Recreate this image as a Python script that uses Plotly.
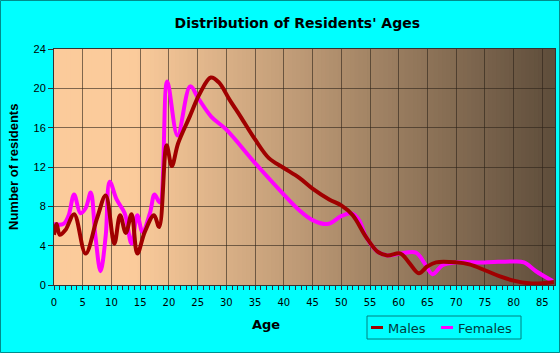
import plotly.graph_objects as go

# ---- data ----
male_age = [0, 0.45, 1, 2, 3.5, 5.5, 7.5, 9, 10.5, 11.5, 12.5, 13.5, 14.5, 15.8, 17.4, 18.3,
            19.6, 20.5, 21.6, 23.6, 25.4, 27.3, 28.7, 30.6, 32.5, 35, 37.4, 40, 42.7, 45,
            47.9, 50, 52, 54.3, 56.3, 58, 60.3, 61.9, 63.5, 65, 66.5, 70, 72.3, 75, 77.5,
            80, 82.7, 85, 87]
male_val = [5.1, 6.2, 5.1, 5.6, 7.2, 3.2, 6.8, 9.1, 4.2, 7.1, 5.3, 7.2, 3.2, 5.4, 7.1, 5.9,
            14.2, 12.1, 14.4, 17.1, 19.5, 21.1, 20.6, 18.8, 17.1, 14.8, 12.9, 11.9, 10.9, 9.8,
            8.7, 8.1, 7.1, 4.9, 3.4, 3.0, 3.2, 2.2, 1.2, 1.9, 2.3, 2.3, 2.1, 1.5, 0.9,
            0.44, 0.17, 0.17, 0.3]

female_age = [0, 1.6, 2.5, 3.5, 4.6, 5.5, 6.4, 7.2, 8.1, 9, 9.7, 10.9, 12.3, 13.5, 14.5, 15.4,
              16.7, 17.5, 18.4, 19.7, 21.5, 23.7, 25.1, 27.4, 30, 35, 40, 42.7, 45, 47.6, 50,
              51.7, 53.1, 54.3, 56.3, 58, 60.3, 63, 64.5, 65.9, 67.6, 70, 75, 80, 81.8, 83.9,
              86.8]
female_val = [6.2, 6.2, 7.0, 9.2, 7.3, 7.8, 9.4, 5.0, 1.4, 5.0, 10.5, 8.7, 7.3, 4.2, 7.1, 5.4,
              7.3, 9.2, 8.4, 20.7, 15.2, 20.2, 19.0, 17.1, 15.8, 12.4, 9.2, 7.6, 6.6, 6.2, 7.0,
              7.3, 6.6, 4.9, 3.4, 3.0, 3.2, 3.3, 2.2, 1.1, 2.0, 2.3, 2.3, 2.4, 2.3, 1.4,
              0.4]

x_ticks = list(range(0, 90, 5))
y_ticks = list(range(0, 25, 4))
series_names = ["Males", "Females"]
series_colors = ["#A00000", "#FF00FF"]

# ---- figure ----
W, H = 560, 353
L, R, T, B = 54, 5, 49, 68
pw, ph = W - L - R, H - T - B

def px2x(p):
    return (p - L) / pw

def py2y(p):
    return (H - B - p) / ph

fig = go.Figure()
fig.add_trace(go.Scatter(x=female_age, y=female_val, mode="lines", name=series_names[1],
                         line=dict(color=series_colors[1], width=4, shape="spline", smoothing=1.0),
                         showlegend=False))
fig.add_trace(go.Scatter(x=male_age, y=male_val, mode="lines", name=series_names[0],
                         line=dict(color=series_colors[0], width=4, shape="spline", smoothing=1.0),
                         showlegend=False))

shapes = []
# background gradient
c0 = (251, 203, 155)
c1 = (94, 77, 59)
xmax = 87.2
n = 120
for i in range(n):
    a = xmax * i / n
    b = xmax * (i + 1) / n
    m = (a + b) / 2
    t = max(0.0, (m - 14) / (xmax - 14))
    col = tuple(round(c0[k] + (c1[k] - c0[k]) * t) for k in range(3))
    shapes.append(dict(type="rect", xref="x", yref="paper", x0=a, x1=min(b + 0.4, xmax), y0=0, y1=1,
                       fillcolor="rgb(%d,%d,%d)" % col, line=dict(width=0), layer="below"))

# outer border
shapes.append(dict(type="rect", xref="paper", yref="paper",
                   x0=px2x(0.5), x1=px2x(W - 0.5), y0=py2y(H - 0.5), y1=py2y(0.5),
                   line=dict(color="#008C8C", width=1), fillcolor="rgba(0,0,0,0)"))

# custom legend
shapes.append(dict(type="rect", xref="paper", yref="paper",
                   x0=px2x(367), x1=px2x(521), y0=py2y(339), y1=py2y(316),
                   line=dict(color="#008080", width=1), fillcolor="rgba(0,0,0,0)"))
for x0p, col in [(371, series_colors[0]), (441, series_colors[1])]:
    shapes.append(dict(type="line", xref="paper", yref="paper",
                       x0=px2x(x0p), x1=px2x(x0p + 12), y0=py2y(327.5), y1=py2y(327.5),
                       line=dict(color=col, width=3)))

annotations = [
    dict(text=series_names[0], xref="paper", yref="paper", x=px2x(386), y=py2y(328),
         xanchor="left", yanchor="middle", showarrow=False,
         font=dict(family="DejaVu Sans", size=13, color="#003C3C")),
    dict(text=series_names[1], xref="paper", yref="paper", x=px2x(456), y=py2y(328),
         xanchor="left", yanchor="middle", showarrow=False,
         font=dict(family="DejaVu Sans", size=13, color="#003C3C")),
    dict(text="<b>Number of residents</b>", xref="paper", yref="paper", x=px2x(13), y=0.5,
         xanchor="center", yanchor="middle", textangle=-90, showarrow=False,
         font=dict(family="Liberation Sans", size=13, color="#000")),
    dict(text="<b>Age</b>", xref="paper", yref="paper", x=px2x(266), y=py2y(324),
         xanchor="center", yanchor="middle", showarrow=False,
         font=dict(family="DejaVu Sans", size=13, color="#000")),
]

fig.update_layout(
    width=W, height=H,
    margin=dict(l=L, r=R, t=T, b=B),
    paper_bgcolor="#00FFFF",
    plot_bgcolor="#FBCB9B",
    title=dict(text="<b>Distribution of Residents' Ages</b>", x=272 / W, xanchor="center",
               y=1 - 23 / H, yanchor="middle", xref="paper",
               font=dict(family="DejaVu Sans", size=14, color="#000")),
    shapes=shapes,
    annotations=annotations,
    showlegend=False,
    xaxis=dict(range=[0, 87.2], tickvals=x_ticks, ticktext=[str(v) for v in x_ticks],
               showgrid=True, gridcolor="rgba(45,35,25,0.6)", gridwidth=1,
               zeroline=False, showline=True, linecolor="#333", linewidth=1, mirror=True,
               ticks="outside", ticklen=4, tickcolor="#333", ticklabelstandoff=4,
               minor=dict(dtick=1, ticks="outside", ticklen=4, tickcolor="#333", showgrid=False),
               tickfont=dict(family="DejaVu Sans", size=10, color="#000"),
               fixedrange=True),
    yaxis=dict(range=[0, 24], tickvals=y_ticks,
               showgrid=True, gridcolor="rgba(45,35,25,0.6)", gridwidth=1,
               zeroline=False, showline=True, linecolor="#333", linewidth=1, mirror=True,
               ticks="outside", ticklen=5, tickcolor="#333",
               tickfont=dict(family="Liberation Sans", size=11, color="#000"),
               fixedrange=True),
)

fig.write_html("out.html")
